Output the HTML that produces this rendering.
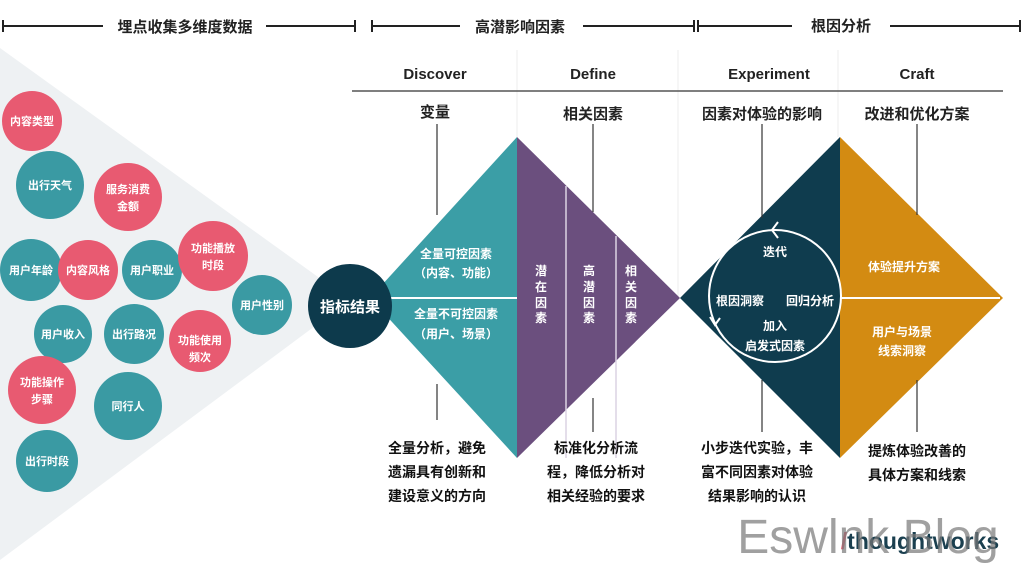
<!DOCTYPE html><html><head><meta charset="utf-8"><style>
body{margin:0;width:1024px;height:576px;overflow:hidden;background:#fff}
text{font-family:"Liberation Sans","Noto Sans CJK SC",sans-serif;font-weight:bold}
</style></head><body>
<svg width="1024" height="576" viewBox="0 0 1024 576" xmlns="http://www.w3.org/2000/svg">
<polygon points="0,48 350,300 0,560" fill="#eef1f3"/>
<g stroke="#222" stroke-width="2">
<line x1="3" y1="26" x2="103" y2="26"/><line x1="266" y1="26" x2="355" y2="26"/><line x1="3" y1="20" x2="3" y2="32"/><line x1="355" y1="20" x2="355" y2="32"/>
<line x1="372" y1="26" x2="460" y2="26"/><line x1="583" y1="26" x2="694" y2="26"/><line x1="372" y1="20" x2="372" y2="32"/><line x1="694" y1="20" x2="694" y2="32"/>
<line x1="698" y1="26" x2="792" y2="26"/><line x1="890" y1="26" x2="1020" y2="26"/><line x1="698" y1="20" x2="698" y2="32"/><line x1="1020" y1="20" x2="1020" y2="32"/>
</g>
<g font-size="15" fill="#222" text-anchor="middle">
<text x="185" y="32">埋点收集多维度数据</text><text x="520" y="32">高潜影响因素</text><text x="841" y="31">根因分析</text>
</g>
<g stroke="#eee" stroke-width="1"><line x1="517" y1="50" x2="517" y2="137"/><line x1="678" y1="50" x2="678" y2="300"/><line x1="838" y1="50" x2="838" y2="137"/></g>
<g font-size="15" fill="#222" text-anchor="middle">
<text x="435" y="79">Discover</text><text x="593" y="79">Define</text><text x="769" y="79">Experiment</text><text x="917" y="79">Craft</text>
<text x="435" y="117">变量</text><text x="593" y="119">相关因素</text><text x="762" y="119">因素对体验的影响</text><text x="917" y="119">改进和优化方案</text>
</g>
<line x1="352" y1="91" x2="1003" y2="91" stroke="#555" stroke-width="1.5"/>
<polygon points="370,298 517,137 517,458" fill="#3b9ea6"/>
<polygon points="517,137 680,298 517,458" fill="#6b4f7e"/>
<polygon points="680,298 840,137 840,458" fill="#0f3c4e"/>
<polygon points="840,137 1003,298 840,458" fill="#d38b12"/>
<g stroke="#dcd3e3" stroke-width="1.5"><line x1="566" y1="186" x2="566" y2="458"/><line x1="616" y1="236" x2="616" y2="458"/></g>
<line x1="380" y1="298" x2="517" y2="298" stroke="#fff" stroke-width="2"/>
<line x1="840" y1="298" x2="1000" y2="298" stroke="#fff" stroke-width="2"/>
<g stroke="#333" stroke-width="1.2">
<line x1="437" y1="124" x2="437" y2="215"/><line x1="437" y1="384" x2="437" y2="420"/>
<line x1="593" y1="124" x2="593" y2="212"/><line x1="593" y1="398" x2="593" y2="432"/>
<line x1="762" y1="124" x2="762" y2="218"/><line x1="762" y1="380" x2="762" y2="432"/>
<line x1="917" y1="124" x2="917" y2="215"/><line x1="917" y1="380" x2="917" y2="432"/>
</g>
<circle cx="775" cy="296" r="66" fill="none" stroke="#fff" stroke-width="2"/>
<polyline points="778,222 772,230 778,238" fill="none" stroke="#fff" stroke-width="2"/>
<polyline points="710,317 715,325 720,318" fill="none" stroke="#fff" stroke-width="2"/>
<g font-size="12" fill="#fff" text-anchor="middle">
<text x="456" y="258">全量可控因素</text><text x="456" y="277">（内容、功能）</text>
<text x="456" y="318">全量不可控因素</text><text x="456" y="338">（用户、场景）</text>
<text x="541" y="275">潜</text><text x="541" y="291">在</text><text x="541" y="307">因</text><text x="541" y="322">素</text>
<text x="589" y="275">高</text><text x="589" y="291">潜</text><text x="589" y="307">因</text><text x="589" y="322">素</text>
<text x="631" y="275">相</text><text x="631" y="291">关</text><text x="631" y="307">因</text><text x="631" y="322">素</text>
<text x="775" y="256">迭代</text><text x="740" y="305">根因洞察</text><text x="810" y="305">回归分析</text>
<text x="775" y="330">加入</text><text x="775" y="350">启发式因素</text>
<text x="904" y="271">体验提升方案</text><text x="902" y="336">用户与场景</text><text x="902" y="355">线索洞察</text>
</g>
<circle cx="350" cy="306" r="42" fill="#0d3a4c"/>
<text x="350" y="312" font-size="15" fill="#fff" text-anchor="middle">指标结果</text>
<g font-size="11" fill="#fff" text-anchor="middle">
<circle cx="32" cy="121" r="30" fill="#e85a71"/><text x="32" y="125">内容类型</text>
<circle cx="50" cy="185" r="34" fill="#3a9aa3"/><text x="50" y="189">出行天气</text>
<circle cx="128" cy="197" r="34" fill="#e85a71"/><text x="128" y="193">服务消费</text><text x="128" y="210">金额</text>
<circle cx="31" cy="270" r="31" fill="#3a9aa3"/><text x="31" y="274">用户年龄</text>
<circle cx="152" cy="270" r="30" fill="#3a9aa3"/><text x="152" y="274">用户职业</text>
<circle cx="88" cy="270" r="30" fill="#e85a71"/><text x="88" y="274">内容风格</text>
<circle cx="213" cy="256" r="35" fill="#e85a71"/><text x="213" y="252">功能播放</text><text x="213" y="269">时段</text>
<circle cx="262" cy="305" r="30" fill="#3a9aa3"/><text x="262" y="309">用户性别</text>
<circle cx="63" cy="334" r="29" fill="#3a9aa3"/><text x="63" y="338">用户收入</text>
<circle cx="134" cy="334" r="30" fill="#3a9aa3"/><text x="134" y="338">出行路况</text>
<circle cx="200" cy="341" r="31" fill="#e85a71"/><text x="200" y="344">功能使用</text><text x="200" y="361">频次</text>
<circle cx="42" cy="390" r="34" fill="#e85a71"/><text x="42" y="386">功能操作</text><text x="42" y="403">步骤</text>
<circle cx="128" cy="406" r="34" fill="#3a9aa3"/><text x="128" y="410">同行人</text>
<circle cx="47" cy="461" r="31" fill="#3a9aa3"/><text x="47" y="465">出行时段</text>
</g>
<g font-size="14" fill="#111" text-anchor="middle">
<text x="437" y="453">全量分析，避免</text><text x="437" y="477">遗漏具有创新和</text><text x="437" y="501">建设意义的方向</text>
<text x="596" y="453">标准化分析流</text><text x="596" y="477">程，降低分析对</text><text x="596" y="501">相关经验的要求</text>
<text x="757" y="453">小步迭代实验，丰</text><text x="757" y="477">富不同因素对体验</text><text x="757" y="501">结果影响的认识</text>
<text x="917" y="456">提炼体验改善的</text><text x="917" y="480">具体方案和线索</text>
</g>
<text x="920" y="549" font-size="23" fill="#1a3f4f" text-anchor="middle" style="font-weight:900"><tspan fill="#e85a71">/</tspan>thoughtworks</text>
<text x="868" y="553" font-size="48" fill="#777" fill-opacity="0.7" text-anchor="middle" style="font-weight:normal">Eswlnk Blog</text>
</svg>
</body></html>
